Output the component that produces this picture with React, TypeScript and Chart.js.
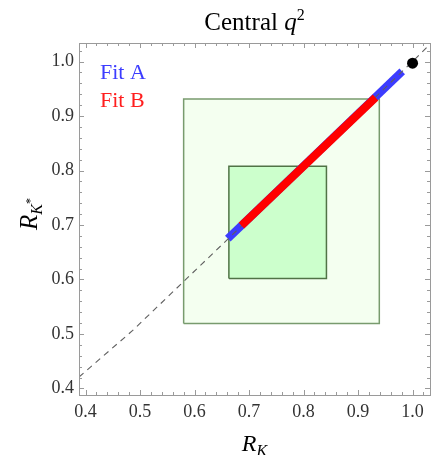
import React, { useEffect, useRef } from "react";
import { Chart, registerables } from "chart.js";
Chart.register(...registerables);

// ---- data ----
const xRange = [0.388, 1.032];
const yRange = [0.388, 1.034];
const majorTicks = [0.4, 0.5, 0.6, 0.7, 0.8, 0.9, 1.0];
const outerBoxX = [0.58, 0.939];
const outerBoxY = [0.519, 0.931];
const innerBoxX = [0.663, 0.842];
const innerBoxY = [0.602, 0.808];
const diagX = [0.388, 0.486, 0.662, 1.0, 1.032];
const diagY = [0.421, 0.506, 0.675, 1.0, 1.032];
const fitAX = [0.661, 0.981];
const fitAY = [0.675, 0.982];
const fitBX = [0.686, 0.932];
const fitBY = [0.699, 0.934];
const smPoint = [1.0, 0.997];
const legendLabels = ["Fit A", "Fit B"];

const SERIF = '"Liberation Serif", "Times New Roman", serif';
const zeroPad = () => ({ left: 0, right: 0, top: 0, bottom: 0 });

const pts = (xs: number[], ys: number[]) => xs.map((x, i) => ({ x, y: ys[i] }));
const box = (xs: number[], ys: number[]) => [
  { x: xs[0], y: ys[0] },
  { x: xs[1], y: ys[0] },
  { x: xs[1], y: ys[1] },
  { x: xs[0], y: ys[1] },
  { x: xs[0], y: ys[0] },
];

type Part = { t: string; f: string; dy?: number };
function drawRich(ctx: CanvasRenderingContext2D, parts: Part[], cx: number, y: number, color: string) {
  let w = 0;
  for (const p of parts) {
    ctx.font = p.f;
    w += ctx.measureText(p.t).width;
  }
  let x = cx - w / 2;
  ctx.fillStyle = color;
  ctx.textBaseline = "alphabetic";
  ctx.textAlign = "left";
  for (const p of parts) {
    ctx.font = p.f;
    ctx.fillText(p.t, x, y + (p.dy || 0));
    x += ctx.measureText(p.t).width;
  }
}

const decorPlugin = {
  id: "decor",
  afterDraw(chart: any) {
    const ctx: CanvasRenderingContext2D = chart.ctx;
    const { left, right, top, bottom } = chart.chartArea;
    const xs = chart.scales.x;
    const ys = chart.scales.y;
    ctx.save();
    ctx.strokeStyle = "#9a9a9a";
    ctx.lineWidth = 1;
    ctx.strokeRect(Math.round(left) + 0.5, Math.round(top) + 0.5, Math.round(right - left), Math.round(bottom - top));
    ctx.beginPath();
    for (let i = 19; i <= 52; i++) {
      const v = i * 0.02;
      const len = i % 5 === 0 ? 5 : 3;
      if (v >= xRange[0] && v <= xRange[1]) {
        const px = Math.round(xs.getPixelForValue(v)) + 0.5;
        ctx.moveTo(px, bottom);
        ctx.lineTo(px, bottom - len);
        ctx.moveTo(px, top);
        ctx.lineTo(px, top + len);
      }
      if (v >= yRange[0] && v <= yRange[1]) {
        const py = Math.round(ys.getPixelForValue(v)) + 0.5;
        ctx.moveTo(left, py);
        ctx.lineTo(left + len, py);
        ctx.moveTo(right, py);
        ctx.lineTo(right - len, py);
      }
    }
    ctx.stroke();

    const cx = (left + right) / 2;
    drawRich(
      ctx,
      [
        { t: "Central ", f: `25px ${SERIF}` },
        { t: "q", f: `italic 25px ${SERIF}` },
        { t: "2", f: `16px ${SERIF}`, dy: -10 },
      ],
      cx,
      30,
      "#000"
    );
    drawRich(
      ctx,
      [
        { t: "R", f: `italic 24px ${SERIF}` },
        { t: "K", f: `italic 16px ${SERIF}`, dy: 5 },
      ],
      cx,
      451,
      "#000"
    );
    ctx.save();
    ctx.translate(37, 214);
    ctx.rotate(-Math.PI / 2);
    drawRich(
      ctx,
      [
        { t: "R", f: `italic 25px ${SERIF}` },
        { t: "K", f: `italic 16px ${SERIF}`, dy: 5 },
        { t: "*", f: `12px ${SERIF}`, dy: -3 },
      ],
      0,
      0,
      "#000"
    );
    ctx.restore();
    ctx.font = `22px ${SERIF}`;
    ctx.textAlign = "left";
    ctx.textBaseline = "alphabetic";
    ctx.fillStyle = "rgb(60,60,255)";
    ctx.fillText(legendLabels[0], 100, 79);
    ctx.fillStyle = "rgb(255,30,30)";
    ctx.fillText(legendLabels[1], 100, 107);
    ctx.restore();
  },
};

export default function App() {
  const ref = useRef<HTMLCanvasElement>(null);
  useEffect(() => {
    if (!ref.current) return;
    const chart = new Chart(ref.current, {
      type: "scatter",
      data: {
        datasets: [
          {
            type: "scatter",
            data: [{ x: smPoint[0], y: smPoint[1] }],
            pointRadius: 5.5,
            backgroundColor: "#000",
            borderColor: "#000",
            borderWidth: 0,
            order: 0,
          } as any,
          {
            type: "line",
            data: pts(fitBX, fitBY),
            borderColor: "rgb(255,0,0)",
            borderWidth: 8,
            pointRadius: 0,
            fill: false,
            order: 1,
          },
          {
            type: "line",
            data: pts(diagX, diagY),
            borderColor: "rgb(95,95,95)",
            borderWidth: 1.1,
            borderDash: [6, 5],
            pointRadius: 0,
            fill: false,
            order: 2,
          },
          {
            type: "line",
            data: pts(fitAX, fitAY),
            borderColor: "rgb(60,60,255)",
            borderWidth: 8,
            pointRadius: 0,
            fill: false,
            order: 3,
          },
          {
            type: "line",
            data: box(innerBoxX, innerBoxY),
            borderColor: "rgb(80,115,70)",
            backgroundColor: "rgb(204,255,204)",
            borderWidth: 1.5,
            pointRadius: 0,
            fill: "shape",
            order: 4,
          },
          {
            type: "line",
            data: box(outerBoxX, outerBoxY),
            borderColor: "rgb(120,155,110)",
            backgroundColor: "rgb(244,255,240)",
            borderWidth: 1.5,
            pointRadius: 0,
            fill: "shape",
            order: 5,
          },
        ],
      },
      options: {
        animation: false,
        responsive: false,
        layout: { autoPadding: false, padding: { top: 43, right: 2, left: 0, bottom: 0 } },
        plugins: { legend: { display: false }, tooltip: { enabled: false }, title: { display: false } },
        scales: {
          x: {
            type: "linear",
            min: xRange[0],
            max: xRange[1],
            afterBuildTicks: (s: any) => {
              s.ticks = majorTicks.map((v) => ({ value: v }));
            },
            afterFit: (s: any) => {
              s.height = 60;
              s.paddingLeft = 0;
              s.paddingRight = 0;
              s.getPadding = zeroPad;
            },
            ticks: {
              callback: (v: any) => Number(v).toFixed(1),
              font: { family: SERIF, size: 18 },
              color: "#333",
              padding: 6,
              maxRotation: 0,
              autoSkip: false,
            },
            grid: { display: false, drawTicks: false },
            border: { display: false },
          },
          y: {
            type: "linear",
            min: yRange[0],
            max: yRange[1],
            afterBuildTicks: (s: any) => {
              s.ticks = majorTicks.map((v) => ({ value: v }));
            },
            afterFit: (s: any) => {
              s.width = 79;
              s.paddingTop = 0;
              s.paddingBottom = 0;
              s.getPadding = zeroPad;
            },
            ticks: {
              callback: (v: any) => Number(v).toFixed(1),
              font: { family: SERIF, size: 18 },
              color: "#333",
              padding: 5,
              autoSkip: false,
            },
            grid: { display: false, drawTicks: false },
            border: { display: false },
          },
        },
      },
      plugins: [decorPlugin],
    } as any);
    return () => chart.destroy();
  }, []);
  return (
    <div style={{ position: "fixed", left: 0, top: 0, background: "#fff" }}>
      <canvas ref={ref} width={432} height={455} style={{ display: "block" }} />
    </div>
  );
}
